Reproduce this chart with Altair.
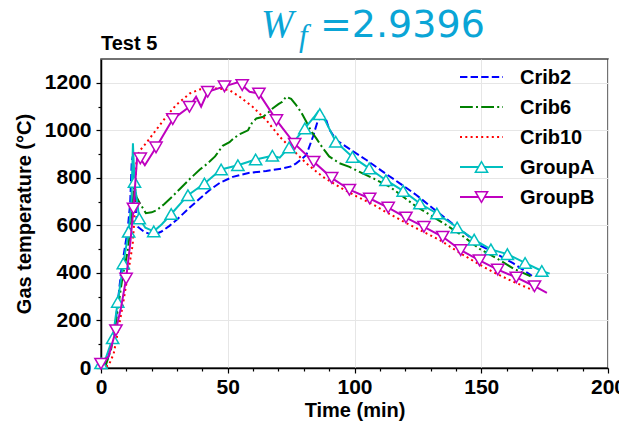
import altair as alt
import pandas as pd

# ---------------- data ----------------
series_names = ["Crib2", "Crib6", "Crib10", "GroupA", "GroupB"]
series_colors = ["#0000ff", "#008000", "#ff0000", "#00bfbf", "#bf00bf"]

crib2_t = [0, 1.5, 3, 5, 6, 8, 10.5, 11.5, 12.1, 12.5, 13.2, 13.8, 14.5, 17, 20.4, 23.7, 27, 30, 35, 39, 43, 47,
           52, 58.6, 65.2, 71.8, 75, 77, 79, 81, 83.6, 85.6, 87.6, 88.5, 90, 92.8, 98, 104.7, 111.3, 118, 124.5,
           131, 137.7, 143, 149.5, 156, 162.7, 170]
crib2_T = [0, 15, 50, 140, 215, 411, 580, 692, 861, 890, 760, 650, 594, 573, 559, 573, 598, 625, 675, 713, 750, 780,
           804, 821, 829, 840, 848, 861, 878, 896, 973, 1043, 1057, 1055, 1005, 959, 922, 875, 825, 776, 727,
           671, 615, 572, 516, 480, 440, 388]

crib6_t = [0, 2, 4, 6, 8.5, 10.5, 12, 13, 14, 15.5, 17.7, 20, 22, 25, 28, 31, 35, 39, 42, 45, 48, 50.7, 52.5, 55,
           58, 59.5, 61.3, 64, 66, 67.8, 70, 71.5, 73, 75, 77, 79, 81, 83, 85, 87.5, 90, 94, 98, 102, 107, 114,
           118, 124, 131, 136, 143, 149.5, 156, 162.7, 169.5]
crib6_T = [0, 15, 80, 200, 383, 490, 620, 760, 720, 690, 651, 655, 664, 690, 720, 752, 795, 835, 860, 890, 935, 950,
           968, 985, 1000, 1030, 1050, 1057, 1075, 1093, 1110, 1120, 1141, 1132, 1106, 1075, 1036, 995, 965, 925,
           890, 862, 846, 825, 800, 762, 730, 682, 636, 603, 553, 500, 462, 418, 386]

crib10_t = [0, 3, 5, 7, 9, 11, 12.5, 13, 13.5, 14, 15, 17.8, 21.7, 25.7, 29.6, 35, 38.9, 42, 45.5, 48, 50.7, 54.7,
            59.8, 65.2, 70.5, 75.7, 81, 87.5, 94, 100.8, 107, 112.6, 120, 127, 134, 141, 148, 155, 162, 170.5]
crib10_T = [0, 10, 60, 170, 290, 420, 520, 600, 750, 875, 910, 946, 1001, 1057, 1106, 1155, 1172, 1176, 1176, 1174,
            1169, 1141, 1099, 1043, 973, 917, 861, 804, 762, 722, 690, 655, 612, 574, 536, 488, 443, 402, 366, 327]

groupA_mark_t = [0, 4.6, 6.6, 8.8, 10.9, 13.2, 15.1, 20.8, 27.7, 34.3, 40.8, 47.4, 54.0, 61.0, 67.6, 74.2, 80.4,
                 86.3, 92.6, 99.2, 105.8, 112.4, 119.2, 125.8, 132.5, 140.5, 147.2, 153.8, 160.3, 167.3, 173.9]
groupA_mark_T = [20, 125, 278, 440, 573, 783, 629, 575, 648, 727, 776, 835, 853, 877, 893, 928, 1008,
                 1068, 952, 888, 840, 790, 745, 692, 650, 591, 540, 499, 479, 442, 408]
groupA_line_t = [2, 12.0, 12.6, 17.5, 24, 70.5, 84, 85.6, 88.5, 177]
groupA_line_T = [45, 700, 945, 590, 605, 885, 1055, 1078, 1040, 397]

groupB_mark_t = [0, 5.9, 9.9, 12.8, 15.5, 21.7, 28.3, 34.9, 42.1, 48.7, 55.7, 62.3, 69.2, 76.4, 83.9, 91.0, 98.0,
                 106.0, 113.3, 120.3, 127.4, 134.8, 141.9, 149.3, 156.5, 163.8, 171.0]
groupB_mark_T = [18, 159, 376, 671, 882, 928, 1047, 1099, 1162, 1185, 1190, 1155, 1043, 943, 868, 800, 750,
                 713, 675, 633, 594, 552, 496, 453, 414, 381, 344]
groupB_line_t = [3, 8, 11.5, 14.2, 17.3, 37.5, 39.5, 54.0, 58.6, 175.9]
groupB_line_T = [50, 260, 520, 880, 853, 1141, 1099, 1202, 1162, 316]

x_ticks = list(range(0, 201, 10))
y_ticks = list(range(0, 1201, 100))

# ---------------- styling ----------------
FONT = "Liberation Sans"
TITLE_COLOR = "#0aa5d6"
dashes = {"Crib2": [7.4, 3.2], "Crib6": [12.8, 3.2, 2, 3.2], "Crib10": [2, 3.3]}
shapes = {"GroupA": "triangle-up", "GroupB": "triangle-down"}

x_enc = alt.X(
    "t:Q",
    scale=alt.Scale(domain=[0, 200], nice=False),
    title="Time (min)",
    axis=alt.Axis(
        values=x_ticks,
        format="d",
        labelExpr="datum.value % 50 == 0 ? datum.label : ''",
        tickSize={"condition": {"test": "datum.value % 50 == 0", "value": 5}, "value": 3},
        gridOpacity={"condition": {"test": "datum.value % 50 == 0", "value": 1}, "value": 0},
        labelPadding=3,
        titlePadding=3,
        labelOverlap=False,
        labelFlush=False,
    ),
)
y_enc = alt.Y(
    "T:Q",
    scale=alt.Scale(domain=[0, 1300], nice=False),
    title="Gas temperature (°C)",
    axis=alt.Axis(
        values=y_ticks,
        format="d",
        labelExpr="datum.value % 200 == 0 ? datum.label : ''",
        tickSize={"condition": {"test": "datum.value % 200 == 0", "value": 5}, "value": 3},
        gridOpacity={"condition": {"test": "datum.value % 200 == 0", "value": 1}, "value": 0},
        labelPadding=5,
        titlePadding=10,
        labelOverlap=False,
        labelFlush=False,
    ),
)


def line_layer(ts, vs, color, dash=None, width=2.0):
    df = pd.DataFrame({"t": ts, "T": vs}).sort_values("t")
    kw = dict(color=color, strokeWidth=width, interpolate="linear")
    if dash:
        kw["strokeDash"] = dash
    return alt.Chart(df).mark_line(**kw).encode(x=x_enc, y=y_enc)


def marker_layer(ts, vs, color, shape):
    df = pd.DataFrame({"t": ts, "T": vs})
    return alt.Chart(df).mark_point(
        shape=shape, size=150, filled=False, fill="white", fillOpacity=1,
        stroke=color, strokeWidth=1.5, opacity=1
    ).encode(x=x_enc, y=y_enc)


layers = [
    line_layer(crib2_t, crib2_T, series_colors[0], dashes["Crib2"]),
    line_layer(crib6_t, crib6_T, series_colors[1], dashes["Crib6"]),
    line_layer(crib10_t, crib10_T, series_colors[2], dashes["Crib10"]),
    line_layer(groupA_mark_t + groupA_line_t, groupA_mark_T + groupA_line_T, series_colors[3]),
    marker_layer(groupA_mark_t, groupA_mark_T, series_colors[3], shapes["GroupA"]),
    line_layer(groupB_mark_t + groupB_line_t, groupB_mark_T + groupB_line_T, series_colors[4]),
    marker_layer(groupB_mark_t, groupB_mark_T, series_colors[4], shapes["GroupB"]),
]

# ---------------- manual legend (inside, top-right) ----------------
row_y = [18, 48, 78, 108, 138]
sym_x0, sym_x1, txt_x = 359, 402, 419
for i, name in enumerate(series_names):
    df = pd.DataFrame({"label": [name]})
    rk = dict(color=series_colors[i], strokeWidth=2.0)
    if name in dashes:
        rk["strokeDash"] = dashes[name]
    layers.append(
        alt.Chart(df).mark_rule(**rk).encode(
            x=alt.value(sym_x0), x2=alt.value(sym_x1), y=alt.value(row_y[i])
        )
    )
    if name in shapes:
        layers.append(
            alt.Chart(df).mark_point(
                shape=shapes[name], size=150, filled=False, fill="white", fillOpacity=1,
                stroke=series_colors[i], strokeWidth=1.5, opacity=1
            ).encode(x=alt.value((sym_x0 + sym_x1) / 2), y=alt.value(row_y[i]))
        )
    layers.append(
        alt.Chart(df).mark_text(
            align="left", baseline="middle", font=FONT, fontSize=20, fontWeight="bold", color="black"
        ).encode(x=alt.value(txt_x), y=alt.value(row_y[i] + 1), text="label:N")
    )

# ---------------- titles ----------------
test_label = ["Test 5"]
layers.append(
    alt.Chart(pd.DataFrame({"label": test_label})).mark_text(
        align="left", baseline="alphabetic", font=FONT, fontSize=20, fontWeight="bold", color="black"
    ).encode(x=alt.value(0), y=alt.value(-9), text="label:N")
)
title_parts = ["W", "f", "=2.9396"]
layers.append(
    alt.Chart(pd.DataFrame({"label": [title_parts[0]]})).mark_text(
        align="left", baseline="alphabetic", font="Liberation Serif", fontSize=39, fontStyle="italic",
        color=TITLE_COLOR
    ).encode(x=alt.value(160), y=alt.value(-22), text="label:N")
)
layers.append(
    alt.Chart(pd.DataFrame({"label": [title_parts[1]]})).mark_text(
        align="left", baseline="alphabetic", font="Liberation Serif", fontSize=31, fontStyle="italic",
        color=TITLE_COLOR
    ).encode(x=alt.value(198), y=alt.value(-13), text="label:N")
)
layers.append(
    alt.Chart(pd.DataFrame({"label": [title_parts[2]]})).mark_text(
        align="left", baseline="alphabetic", font="DejaVu Sans", fontSize=38, color=TITLE_COLOR
    ).encode(x=alt.value(219), y=alt.value(-22), text="label:N")
)

chart = alt.layer(*layers).properties(
    width=507,
    height=309,
    autosize=alt.AutoSizeParams(type="none"),
    padding={"left": 101, "top": 59, "right": 11, "bottom": 57},
).configure_axis(
    labelFont=FONT, titleFont=FONT,
    labelFontSize=21, titleFontSize=20,
    labelFontWeight="bold", titleFontWeight="bold",
    labelColor="black", titleColor="black",
    domainColor="black", domainWidth=1.5,
    tickColor="black", tickWidth=1.2,
    gridColor="#e6e6e6", gridWidth=1,
).configure_view(
    stroke="#444444", strokeWidth=1.5
)

chart.save("out.html", embed_options={"renderer": "svg", "actions": False})
